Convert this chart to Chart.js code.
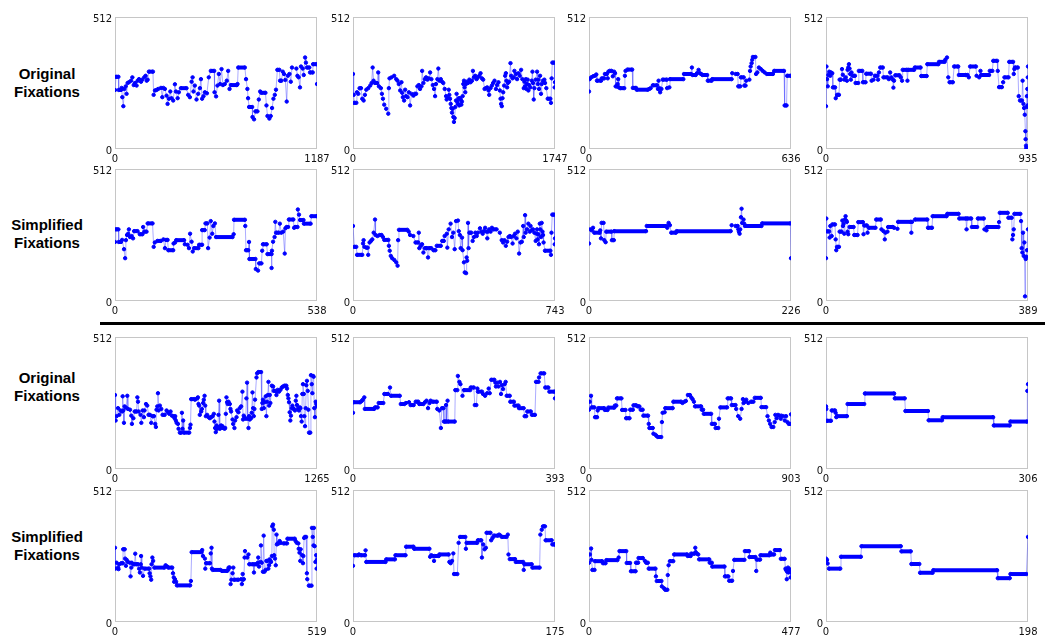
<!DOCTYPE html>
<html><head><meta charset="utf-8">
<script src="https://cdn.jsdelivr.net/npm/chart.js@4/dist/chart.umd.min.js"></script>
<style>
body{margin:0;width:1045px;height:640px;background:#fff;position:relative;overflow:hidden;font-family:"Liberation Sans",Arial,sans-serif}
.lbl{position:absolute;left:0;width:94px;text-align:center;font-weight:bold;font-size:15px;line-height:17.5px;color:#000}
#sep{position:absolute;left:100px;top:322px;width:945px;height:3px;background:#000}
</style></head><body>
<div class="lbl" style="top:65px">Original<br>Fixations</div>
<div class="lbl" style="top:216px">Simplified<br>Fixations</div>
<div class="lbl" style="top:369px">Original<br>Fixations</div>
<div class="lbl" style="top:528px">Simplified<br>Fixations</div>
<div id="sep"></div>
<script>
// x-axis maxima (tick labels) for the 16 panels, row by row
const xMax = [1187, 1747, 636, 935, 538, 743, 226, 389, 1265, 393, 903, 306, 519, 175, 477, 198];
const yTicks = [0, 512];

// Row 1 : original fixations
const p1x = [0,6,20,22,35,39,43,49,55,63,68,74,82,94,102,110,117,127,133,141,153,160,172,180,186,192,199,223,227,235,244,254,270,278,284,293,303,309,317,325,332,342,352,358,368,375,387,420,430,440,450,456,461,469,479,489,499,505,512,520,528,540,551,563,583,585,594,602,610,618,626,634,645,657,665,673,681,716,720,724,763,770,778,782,788,806,808,817,825,837,845,853,860,884,890,896,907,915,923,931,939,946,954,966,970,978,986,993,1001,1009,1015,1025,1033,1040,1066,1072,1079,1087,1093,1103,1109,1117,1122,1128,1142,1146,1162,1164,1185,1187];
const p1y = [229,280,280,229,229,237,201,166,233,243,214,256,259,265,278,248,256,246,265,271,261,269,278,284,265,269,300,300,210,227,229,233,237,201,237,233,207,175,195,223,197,188,251,223,197,220,236,236,210,201,261,278,223,246,192,214,236,271,195,205,220,216,278,303,303,220,204,246,291,252,310,248,252,265,303,233,248,248,252,316,316,271,233,197,163,163,124,115,146,146,192,223,218,218,169,128,118,128,159,195,210,230,307,307,265,265,300,291,268,184,284,291,261,316,312,284,278,239,320,312,287,355,335,316,316,297,297,329,329,252];

const p2x = [0,6,11,29,34,46,57,69,80,92,103,115,132,149,161,170,178,190,207,218,224,241,250,259,270,287,305,310,316,333,356,374,385,396,408,419,425,431,442,451,460,471,483,494,506,523,534,546,557,569,580,592,598,609,621,632,644,655,667,678,690,701,710,718,730,738,747,759,770,781,793,805,810,822,828,833,839,845,851,856,862,868,873,879,885,891,896,902,908,914,919,925,931,937,942,948,954,960,965,971,977,983,994,1006,1017,1029,1037,1046,1057,1069,1080,1092,1103,1115,1126,1138,1149,1161,1172,1178,1189,1201,1212,1224,1236,1247,1258,1270,1276,1281,1287,1293,1299,1307,1316,1322,1327,1333,1339,1350,1362,1368,1379,1391,1396,1408,1419,1431,1442,1454,1465,1477,1483,1488,1494,1500,1506,1511,1517,1523,1534,1546,1552,1557,1563,1569,1580,1592,1598,1603,1609,1618,1626,1632,1643,1655,1661,1672,1684,1707,1712,1718,1724,1741,1744,1747];
const p2y = [291,210,179,179,220,214,236,236,195,188,210,230,236,246,256,316,265,256,256,297,243,236,214,195,172,156,137,236,274,278,284,271,265,252,227,259,218,201,188,230,205,201,220,169,214,207,214,214,243,248,233,243,303,256,271,278,269,274,297,271,248,233,205,252,271,312,265,271,261,256,233,205,192,197,230,210,195,175,159,141,156,124,105,120,163,188,214,184,175,197,169,197,192,172,184,205,252,265,239,220,252,261,256,269,259,265,303,278,284,271,278,284,294,274,269,233,236,239,227,210,236,246,256,265,233,248,259,227,195,175,166,197,220,246,284,294,265,239,256,261,333,284,274,278,303,291,271,294,284,307,271,236,261,243,271,233,252,269,227,248,239,265,300,256,192,236,269,300,252,269,233,284,214,252,265,269,256,236,195,195,179,274,335,335,239,259];

const p3x = [0,2,7,13,18,23,25,38,40,48,50,56,59,61,65,71,75,79,82,84,88,90,92,94,98,111,113,115,121,136,138,148,150,185,190,194,201,214,217,219,222,224,228,232,245,246,253,255,297,299,321,324,326,336,340,345,349,353,357,372,374,386,388,449,451,462,468,470,476,478,487,489,493,495,505,507,509,512,514,516,524,526,530,535,541,547,553,560,579,583,614,616,622,624,636];
const p3y = [223,271,278,282,284,289,265,265,274,274,291,291,274,300,303,303,282,300,294,243,243,252,271,239,236,236,284,303,308,308,237,237,230,230,233,236,247,247,233,265,236,220,233,269,269,236,239,271,271,291,291,316,287,287,294,307,294,291,287,287,265,265,271,271,294,291,291,243,243,278,278,246,246,265,269,303,320,333,346,357,357,291,297,316,310,303,297,291,291,303,303,169,169,284,284];

const p4x = [0,2,5,8,11,15,20,23,29,32,42,45,51,60,63,69,74,78,85,91,97,100,103,106,109,112,115,118,125,134,137,149,152,168,171,183,186,208,211,220,226,238,241,245,251,263,266,285,291,297,303,309,312,315,321,340,346,352,355,374,377,380,408,411,438,441,466,469,520,523,549,552,560,566,572,587,593,612,615,646,655,661,667,694,697,709,715,718,755,758,770,774,792,795,801,814,820,826,845,848,866,869,872,875,888,892,898,907,910,914,917,920,923,924,926,927,929,930,932,933,934,935];
const p4y = [166,320,271,243,287,300,284,297,294,239,239,197,210,210,269,269,310,288,269,278,265,307,316,329,312,291,269,297,284,284,256,256,303,303,259,259,292,292,265,269,284,284,269,297,316,316,278,278,271,297,278,269,238,265,286,286,278,265,307,307,265,307,307,316,316,283,283,329,329,338,338,346,355,278,259,259,320,320,287,287,287,278,320,320,284,278,303,287,287,303,303,342,342,303,240,240,259,278,278,338,338,291,310,316,316,205,188,188,265,175,159,133,69,38,13,3,163,205,233,169,278,320];

// Row 2 : simplified fixations
const p5x = [0,2,9,10,16,19,24,27,29,32,35,37,40,44,48,51,60,66,73,75,78,84,87,100,103,106,113,122,129,133,136,140,142,155,156,160,163,184,186,193,197,200,204,207,211,222,224,232,232,239,241,246,248,252,255,259,262,266,269,313,316,317,346,347,349,355,357,358,374,375,381,384,390,392,394,404,406,417,417,418,421,425,427,429,436,439,443,448,452,454,457,461,463,475,477,480,486,487,490,493,502,503,521,523,538];
const p5y = [229,278,278,229,229,237,201,166,236,256,261,278,248,252,243,271,271,259,259,287,269,269,301,301,210,227,233,233,239,205,237,237,197,197,223,227,236,236,220,218,205,261,230,192,205,205,218,218,275,275,301,301,205,246,310,261,291,301,248,248,259,315,315,291,197,197,229,163,163,124,118,146,146,195,220,220,182,182,128,195,230,248,307,265,265,300,265,269,184,282,287,287,316,316,284,287,287,355,335,314,314,300,300,329,329];

const p6x = [0,5,12,15,34,37,39,42,49,54,56,61,66,71,76,81,83,90,98,105,110,115,130,132,135,139,144,152,159,164,166,169,200,205,210,222,230,240,242,244,249,254,259,264,269,271,276,279,288,296,303,308,323,328,334,337,345,347,352,359,364,369,374,379,386,389,393,396,401,403,408,411,416,418,420,423,425,428,435,440,445,450,455,459,467,472,477,481,486,491,494,496,501,506,511,516,528,540,547,552,557,562,567,572,577,582,587,591,596,601,606,611,616,621,626,628,633,635,640,645,650,653,657,662,667,672,675,677,679,682,684,687,689,692,694,697,699,701,706,726,728,730,733,740,742,743];
const p6y = [291,210,210,179,179,223,236,210,207,207,179,227,233,239,265,316,256,252,256,256,248,237,237,214,195,175,166,159,150,137,236,276,276,269,256,252,227,227,265,205,214,220,188,205,205,205,169,205,205,197,197,214,214,233,233,252,261,207,278,300,248,265,201,310,312,271,256,205,246,197,150,111,108,169,156,303,205,265,265,233,248,265,252,265,282,269,261,271,284,269,243,269,278,269,284,278,278,265,236,227,236,214,230,248,252,248,223,252,261,243,269,184,227,230,291,248,333,265,278,300,269,291,274,278,265,233,261,278,239,259,220,300,278,248,303,269,256,227,195,195,179,265,335,335,220,243];

const p7x = [0,1.5,3.0,4.5,5.9,11.9,12.6,13.4,14.1,16.3,17.1,18.6,19.3,25.2,25.6,27.8,28.2,63.8,64.6,86.8,87.6,89.1,90.5,92.0,97.2,98.0,158.5,159.6,164.0,166.3,167.0,167.7,168.5,169.2,170.0,170.7,171.4,172.9,173.7,174.4,193.0,193.7,225.3,226];
const p7y = [223,278,274,284,265,265,274,243,303,303,236,228,269,269,236,236,271,271,291,291,284,303,294,265,265,271,271,294,291,291,278,269,261,278,325,358,303,316,300,291,291,301,301,166];

const p8x = [0,0.6,1.9,5.8,7.0,8.3,10.9,12.2,17.3,18.6,19.8,21.1,25.0,26.2,30.1,31.4,32.6,33.9,35.2,36.5,37.7,39.0,40.3,41.6,42.9,45.4,53.1,54.4,60.8,62.1,71.0,72.3,73.6,78.7,80.0,82.5,95.3,96.6,105.6,106.8,110.7,113.2,114.5,118.4,119.6,128.6,131.2,137.6,138.8,163.1,164.4,165.7,171.5,195.1,196.4,204.1,205.4,232.2,233.5,255.3,256.6,269.4,270.7,272.0,279.6,280.9,291.1,292.4,303.9,305.2,309.0,310.3,332.1,333.3,334.6,350.0,351.2,357.6,358.9,360.2,361.5,362.8,374.3,375.6,376.8,378.1,379.4,380.7,382.0,383.3,383.9,384.6,385.8,387.1,389];
const p8y = [166,320,270,270,246,291,252,297,297,239,197,210,210,269,269,312,291,300,261,316,329,312,307,269,259,287,287,256,256,306,306,259,293,293,265,284,284,316,316,278,271,239,265,269,287,287,284,280,307,307,265,307,316,316,284,284,329,329,338,338,320,320,278,320,320,287,287,320,320,278,274,287,287,306,342,342,323,323,239,256,278,338,338,310,205,188,265,175,227,18,169,163,172,197,278];

// Row 3 : original fixations
const p9x = [0,4,10,19,27,35,44,48,52,56,60,69,77,81,94,102,106,115,123,135,140,144,148,160,165,173,181,185,194,202,210,219,227,235,244,252,256,260,265,269,273,281,290,298,311,323,331,340,348,356,365,373,377,381,386,394,398,406,415,419,423,427,431,465,469,473,477,498,502,515,519,523,527,531,540,544,552,556,561,565,569,577,586,594,602,611,619,623,627,631,636,640,644,648,652,656,661,665,669,673,677,686,690,694,698,702,706,711,719,723,727,736,740,748,752,761,765,773,781,790,798,802,806,811,819,823,827,831,836,840,844,852,856,861,865,869,873,877,886,890,898,915,919,923,927,932,936,944,948,952,957,961,965,969,973,982,990,994,1002,1011,1015,1019,1027,1036,1044,1052,1061,1073,1077,1082,1086,1090,1094,1098,1102,1107,1111,1115,1119,1127,1132,1136,1140,1144,1152,1157,1161,1165,1169,1173,1177,1182,1186,1190,1194,1198,1202,1207,1211,1215,1223,1227,1232,1236,1240,1244,1248,1252,1257,1261,1265];
const p9y = [287,188,205,236,210,227,223,282,227,179,243,238,284,233,230,207,175,197,223,223,278,261,223,210,179,227,201,227,252,246,210,210,179,205,205,175,163,230,243,294,227,246,233,210,210,227,220,214,223,207,205,197,205,188,179,175,156,141,141,218,156,188,141,141,159,172,271,271,269,274,278,252,246,210,223,233,256,269,284,246,205,210,201,197,201,205,214,184,159,143,169,156,163,210,265,156,166,169,159,166,159,156,159,214,278,259,252,261,252,233,223,192,175,159,188,201,227,220,236,243,300,192,207,201,195,274,335,195,159,205,192,197,218,297,236,205,233,269,355,371,376,376,233,256,269,236,259,282,205,261,287,338,246,287,256,323,320,303,303,287,300,307,300,307,316,320,323,323,312,287,274,259,220,188,207,236,246,236,233,227,265,284,248,233,227,239,236,205,184,291,329,291,205,166,236,325,342,303,230,141,141,364,329,294,361,358,236,201,261,252,243];

const p10x = [0,1,14,17,19,22,23,41,43,48,50,59,61,68,72,74,91,93,100,103,109,112,118,122,127,129,137,140,143,146,149,151,155,163,164,168,171,173,176,177,180,181,182,184,185,198,199,203,204,207,209,213,216,228,229,235,237,240,242,243,251,253,257,261,264,266,269,275,277,278,281,283,286,288,290,292,295,297,299,305,306,313,314,322,323,332,334,337,339,346,348,354,356,361,362,365,372,374,380,382,392,393];
const p10y = [218,259,259,264,269,278,233,233,239,239,256,256,291,291,316,284,284,252,252,256,259,248,248,261,261,252,252,259,265,236,256,265,261,261,233,227,159,236,236,184,184,248,184,265,184,184,306,306,361,338,329,284,306,306,316,316,248,248,312,300,300,291,284,294,312,294,346,346,335,320,335,320,338,291,325,310,329,338,284,284,261,261,246,246,236,236,205,205,223,223,210,210,338,338,355,371,371,316,316,300,300,274];

const p11x = [0,3,9,12,24,27,36,39,42,68,71,83,86,113,116,122,125,145,148,163,166,181,184,196,199,211,217,225,231,240,243,264,267,270,285,288,297,302,308,323,326,329,338,341,374,377,412,418,427,433,442,451,457,463,469,474,501,504,510,513,546,549,563,566,578,581,587,617,620,635,638,655,658,667,676,682,688,691,697,703,712,724,735,741,768,771,792,798,804,810,816,824,830,833,839,845,851,857,860,869,875,881,887,893,899,903];
const p11y = [230,261,284,239,239,201,201,227,236,236,229,229,238,238,246,246,274,274,229,229,197,197,230,230,247,247,243,243,230,230,207,207,175,159,159,137,133,128,124,124,182,218,220,236,236,261,261,256,261,264,287,287,278,271,261,243,243,230,230,214,214,175,175,159,159,195,239,239,274,274,248,248,233,205,195,233,271,256,261,269,256,261,261,276,276,240,240,205,188,175,163,163,182,210,197,210,207,195,207,205,188,205,182,175,175,212];

const p12x = [0,0.5,1.5,7.5,8.6,13.6,14.6,15.6,16.6,31.7,32.7,57.9,58.9,103.2,104.2,119.3,120.3,154.5,155.5,175.7,176.7,253.2,254.2,278.3,279.3,304.5,305.0,306];
const p12y = [243,233,187,187,227,227,218,201,205,205,252,252,293,293,274,274,225,225,189,189,201,201,169,169,184,184,303,329];

// Row 4 : simplified fixations
const p13x = [0,1,4,8,9,11,16,20,21,25,26,28,30,33,38,40,42,43,47,50,52,54,59,62,64,66,67,69,72,76,88,89,91,93,94,96,98,101,127,130,134,137,147,149,151,152,154,157,159,193,195,197,222,224,226,231,232,234,244,246,248,249,251,271,275,288,290,292,295,297,299,302,304,306,317,324,326,328,329,331,333,334,340,343,345,355,357,359,365,367,368,370,374,375,377,380,382,384,387,389,392,394,396,397,399,401,403,404,406,408,409,411,413,415,416,418,421,423,426,433,442,443,462,464,467,471,472,474,476,477,481,483,484,486,488,491,493,494,498,505,506,508,510,511,513,515,517,518,519];
const p13y = [288,207,230,211,205,224,228,228,282,282,246,218,241,233,230,177,211,230,224,224,265,224,224,207,192,224,256,211,179,207,207,189,177,164,224,250,237,211,211,220,215,211,211,189,173,156,166,156,142,142,159,271,271,279,256,246,207,228,228,266,288,207,202,202,198,198,202,211,211,147,164,189,211,164,164,166,147,186,164,166,250,275,250,262,224,224,192,224,224,230,250,215,233,297,230,195,335,195,202,237,237,207,220,243,237,233,256,371,378,358,259,246,220,339,301,305,305,314,307,305,305,323,323,314,307,305,284,269,237,282,259,228,256,326,330,330,189,166,141,141,365,330,297,365,294,233,259,207,241];

const p14x = [0,1.2,4.6,5.2,6.9,10.4,10.9,11.5,28.2,28.8,36.3,36.8,45.5,46.0,52.4,53.0,66.2,66.8,67.9,69.1,70.2,70.8,74.3,74.8,82.9,83.5,84.6,85.8,86.9,87.5,90.4,91.5,92.7,97.3,97.8,98.4,107.6,108.2,111.1,111.7,112.8,114.0,115.1,115.7,119.1,119.7,120.9,122.0,125.5,126.6,127.8,128.9,133.0,134.1,134.7,135.8,140.4,141.0,147.4,147.9,148.5,154.8,155.4,161.7,162.3,163.5,164.6,166.3,166.9,172.1,172.7,174.4,175];
const p14y = [218,259,259,262,259,259,278,233,233,243,243,259,259,292,292,284,284,253,259,256,237,256,256,262,262,233,228,237,266,186,186,307,330,330,284,307,307,317,317,250,301,282,288,346,346,317,326,335,335,339,335,330,330,339,262,244,244,233,233,202,224,224,211,211,339,358,371,371,317,317,301,301,301];

const p15x = [0,2,5,6,8,13,14,31,33,39,41,67,70,72,88,89,97,99,110,111,116,117,127,132,135,139,141,157,158,160,171,172,177,180,185,186,188,191,199,201,232,233,240,241,249,251,252,255,258,260,284,285,290,291,320,321,329,331,338,340,343,367,368,378,379,393,395,396,404,405,426,428,431,437,439,451,453,462,464,465,467,468,470,471,473,475,476,477];
const p15y = [230,262,285,241,202,202,236,236,228,228,240,240,250,275,275,229,229,197,197,230,230,248,248,237,230,230,207,207,177,159,159,138,131,125,125,182,220,236,236,262,262,256,256,265,265,288,271,265,262,243,243,230,230,215,215,177,177,160,160,198,241,241,275,275,252,252,198,242,242,259,259,269,262,262,279,279,245,245,207,202,166,195,211,192,205,202,173,192];

const p16x = [0,1.0,1.6,2.9,14.0,14.7,34.2,34.8,73.3,73.9,83.1,83.7,91.5,92.2,104.5,105.2,167.7,168.4,180.1,180.8,196.4,198];
const p16y = [246,241,227,207,207,253,253,294,294,274,274,225,225,191,191,201,201,170,170,186,186,330];

const seriesX = [p1x,p2x,p3x,p4x,p5x,p6x,p7x,p8x,p9x,p10x,p11x,p12x,p13x,p14x,p15x,p16x];
const seriesY = [p1y,p2y,p3y,p4y,p5y,p6y,p7y,p8y,p9y,p10y,p11y,p12y,p13y,p14y,p15y,p16y];

const PW = 202, PH = 133;
const lefts = [115, 353, 589, 826];
const tops = [17, 169, 337, 490];
const LINE = 'rgba(70,70,255,0.45)', DOT = '#0000ff';

const boxPlugin = {
  id: 'box',
  beforeDatasetsDraw(ch) {
    const a = ch.chartArea, c = ch.ctx;
    c.save();
    c.strokeStyle = '#c6c6c6'; c.lineWidth = 1;
    c.strokeRect(Math.round(a.left) + 0.5, Math.round(a.top) + 0.5,
                 Math.round(a.right - a.left) - 1, Math.round(a.bottom - a.top) - 1);
    c.restore();
  }
};

const tickFont = {family: 'DejaVu Sans', size: 10};

function makeChart(xs, ys, maxX, left, top) {
  const W = PW + 30 + 20, H = PH + 8 + 18;
  const wrap = document.createElement('div');
  wrap.style.cssText = 'position:absolute;left:' + (left - 30) + 'px;top:' + (top - 8) + 'px;width:' + W + 'px;height:' + H + 'px';
  const cv = document.createElement('canvas');
  cv.width = W; cv.height = H; cv.style.width = W + 'px'; cv.style.height = H + 'px';
  wrap.appendChild(cv); document.body.appendChild(wrap);
  const pts = xs.map((x, i) => ({x: x, y: ys[i]}));
  const flat = c => c.p0.parsed.y === c.p1.parsed.y;
  const ch = new Chart(cv, {
    type: 'line',
    data: {datasets: [{
      data: pts, borderColor: LINE, borderWidth: 1, tension: 0,
      pointRadius: 1.7, pointBorderWidth: 1, pointBackgroundColor: DOT, pointBorderColor: DOT,
      segment: {
        borderColor: c => flat(c) ? DOT : LINE,
        borderWidth: c => flat(c) ? 4 : 1
      }
    }]},
    options: {
      responsive: false, animation: false, events: [],
      layout: {padding: {top: 8, right: 20, left: 0, bottom: 0}},
      plugins: {legend: {display: false}, tooltip: {enabled: false}},
      scales: {
        x: {
          type: 'linear', min: 0, max: maxX,
          grid: {display: false, drawTicks: false}, border: {display: false},
          afterBuildTicks: s => { s.ticks = [{value: 0}, {value: maxX}]; },
          afterFit: s => { s.height = 18; },
          ticks: {padding: 4, maxRotation: 0, autoSkip: false, color: '#111', font: tickFont,
                  callback: v => String(v)}
        },
        y: {
          type: 'linear', min: yTicks[0], max: yTicks[1],
          grid: {display: false, drawTicks: false}, border: {display: false},
          afterBuildTicks: s => { s.ticks = yTicks.map(v => ({value: v})); },
          afterFit: s => { s.width = 30; },
          ticks: {padding: 3, labelOffset: 2, autoSkip: false, color: '#111', font: tickFont,
                  callback: v => String(v)}
        }
      }
    },
    plugins: [boxPlugin]
  });
  const a = ch.chartArea;
  wrap.style.left = (left - a.left) + 'px';
  wrap.style.top = (top - a.top) + 'px';
}

for (let i = 0; i < 16; i++) {
  makeChart(seriesX[i], seriesY[i], xMax[i], lefts[i % 4], tops[Math.floor(i / 4)]);
}
</script>
</body></html>
